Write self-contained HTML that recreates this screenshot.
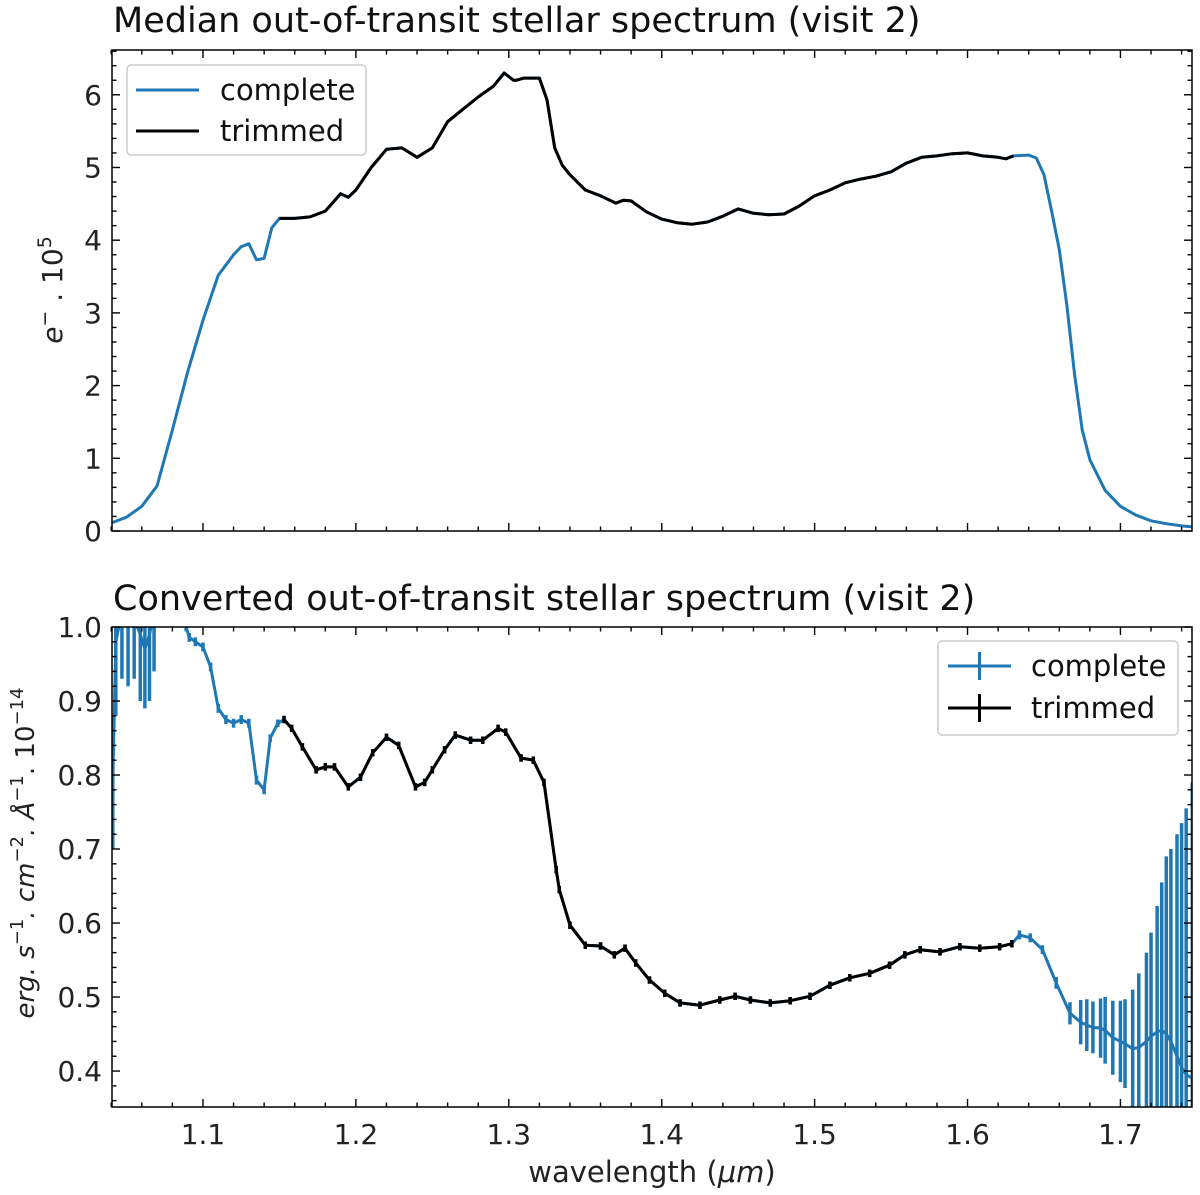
<!DOCTYPE html>
<html><head><meta charset="utf-8">
<style>
html,body{margin:0;padding:0;background:#fff;overflow:hidden;width:1200px;height:1195px;}
svg{display:block;font-family:"DejaVu Sans","Liberation Sans",sans-serif;}
</style></head>
<body>
<svg id="fig" width="1200" height="1195" viewBox="0 0 1200 1195" xmlns="http://www.w3.org/2000/svg"></svg>
<script>
// ---- Data ----
const topWl = [1.04,1.05,1.06,1.07,1.08,1.09,1.10,1.11,1.12,1.125,1.13,1.135,1.14,1.145,1.15,1.16,1.17,1.18,1.19,1.195,1.20,1.21,1.22,1.23,1.24,1.25,1.26,1.27,1.28,1.29,1.297,1.303,1.305,1.31,1.32,1.325,1.33,1.335,1.34,1.35,1.36,1.37,1.375,1.38,1.39,1.40,1.41,1.42,1.43,1.44,1.45,1.46,1.47,1.48,1.49,1.50,1.51,1.52,1.53,1.54,1.55,1.56,1.57,1.58,1.59,1.60,1.61,1.62,1.625,1.63,1.64,1.645,1.65,1.655,1.66,1.665,1.67,1.675,1.68,1.69,1.70,1.71,1.72,1.73,1.74,1.75];
const topFlux = [0.11,0.19,0.34,0.62,1.39,2.19,2.9,3.52,3.8,3.91,3.95,3.73,3.75,4.17,4.3,4.3,4.32,4.4,4.64,4.59,4.69,5.0,5.25,5.27,5.14,5.27,5.63,5.8,5.97,6.12,6.3,6.2,6.2,6.23,6.23,5.93,5.27,5.03,4.9,4.69,4.61,4.51,4.55,4.54,4.39,4.29,4.24,4.22,4.25,4.33,4.43,4.37,4.35,4.36,4.47,4.61,4.69,4.79,4.84,4.88,4.94,5.06,5.14,5.16,5.19,5.2,5.16,5.14,5.12,5.16,5.17,5.13,4.9,4.4,3.87,3.1,2.15,1.39,0.98,0.56,0.34,0.22,0.14,0.1,0.07,0.05];
const botWl = [1.041,1.043,1.047,1.051,1.055,1.059,1.062,1.065,1.068,1.075,1.082,1.089,1.091,1.095,1.100,1.105,1.110,1.115,1.120,1.125,1.130,1.135,1.140,1.144,1.149,1.153,1.158,1.165,1.174,1.180,1.186,1.195,1.203,1.211,1.220,1.228,1.239,1.245,1.250,1.258,1.265,1.275,1.283,1.293,1.298,1.308,1.316,1.323,1.331,1.333,1.340,1.350,1.360,1.369,1.376,1.383,1.392,1.402,1.412,1.425,1.438,1.448,1.458,1.471,1.484,1.497,1.510,1.523,1.536,1.549,1.559,1.569,1.582,1.595,1.608,1.621,1.629,1.634,1.641,1.649,1.658,1.667,1.674,1.678,1.682,1.687,1.690,1.695,1.700,1.703,1.708,1.712,1.717,1.720,1.724,1.727,1.730,1.733,1.737,1.740,1.743,1.747];
const botFlux = [0.79,0.98,1.02,1.0,1.01,0.99,0.97,0.99,1.02,1.05,1.03,1.0,0.986,0.98,0.973,0.946,0.89,0.875,0.87,0.875,0.87,0.793,0.78,0.85,0.87,0.875,0.863,0.838,0.807,0.811,0.811,0.784,0.797,0.83,0.851,0.84,0.784,0.79,0.807,0.834,0.854,0.847,0.847,0.863,0.858,0.823,0.82,0.79,0.672,0.645,0.597,0.57,0.569,0.557,0.566,0.546,0.523,0.505,0.492,0.489,0.496,0.501,0.496,0.492,0.495,0.501,0.516,0.526,0.532,0.543,0.557,0.564,0.561,0.568,0.566,0.568,0.572,0.584,0.58,0.564,0.519,0.478,0.466,0.462,0.459,0.458,0.455,0.445,0.44,0.437,0.43,0.432,0.44,0.447,0.453,0.455,0.45,0.44,0.42,0.405,0.395,0.39];
const botErr = [0.09,0.1,0.09,0.08,0.08,0.09,0.08,0.09,0.08,0.05,0.03,0.006,0.006,0.006,0.006,0.006,0.006,0.006,0.006,0.006,0.006,0.006,0.006,0.005,0.005,0.005,0.005,0.005,0.005,0.005,0.005,0.005,0.005,0.005,0.005,0.005,0.005,0.005,0.005,0.005,0.005,0.005,0.005,0.005,0.005,0.005,0.005,0.005,0.005,0.005,0.005,0.005,0.005,0.005,0.005,0.005,0.005,0.005,0.005,0.005,0.005,0.005,0.005,0.005,0.005,0.005,0.005,0.005,0.005,0.005,0.005,0.005,0.005,0.005,0.005,0.005,0.005,0.006,0.006,0.006,0.008,0.015,0.03,0.035,0.035,0.04,0.045,0.05,0.055,0.06,0.08,0.1,0.12,0.14,0.17,0.2,0.24,0.26,0.3,0.33,0.36,0.4];
const trimRange = [1.15, 1.63];
const xTicks = [1.1,1.2,1.3,1.4,1.5,1.6,1.7];
const topYTicks = [0,1,2,3,4,5,6];
const botYTicks = [0.4,0.5,0.6,0.7,0.8,0.9,1.0];

// ---- Axes ----
const NS='http://www.w3.org/2000/svg';
const svg=document.getElementById('fig');
const L=112,R=1192;
const xmin=1.0405,xmax=1.7468;
const sx=v=>L+(v-xmin)/(xmax-xmin)*(R-L);
const T1=50,B1=531,ymin1=0,ymax1=6.616;
const sy1=v=>B1-(v-ymin1)/(ymax1-ymin1)*(B1-T1);
const T2=627,B2=1107,ymin2=0.3514,ymax2=1.0;
const sy2=v=>B2-(v-ymin2)/(ymax2-ymin2)*(B2-T2);
const BLUE='#1f77b4';
const TICKFS=28;

function mk(tag,attrs,parent){const e=document.createElementNS(NS,tag);for(const k in attrs)e.setAttribute(k,attrs[k]);(parent||svg).appendChild(e);return e;}
function txt(s,attrs,parent){const e=mk('text',attrs,parent);e.textContent=s;return e;}

function clip(id,T,B){const d=mk('clipPath',{id:id});mk('rect',{x:L,y:T,width:R-L,height:B-T},d);}
clip('c1',T1,B1);clip('c2',T2,B2);

function axes(T,B,sy,ymin,ymax,yTicks,yMinorStep,labelX,prefix,fmt){
  const g=mk('g',{});
  
  
  for(let v=1.04;v<=xmax+1e-9;v+=0.02){
    const major=xTicks.some(t=>Math.abs(t-v)<1e-6);const len=major?8:4.5;const x=sx(v);
    mk('line',{x1:x,x2:x,y1:B,y2:B-len,stroke:'#000','stroke-width':1.4},g);
    mk('line',{x1:x,x2:x,y1:T,y2:T+len,stroke:'#000','stroke-width':1.4},g);
  }
  for(let v=Math.ceil(ymin/yMinorStep)*yMinorStep;v<=ymax+1e-9;v+=yMinorStep){
    const major=yTicks.some(t=>Math.abs(t-v)<1e-6);const len=major?8:4.5;const y=sy(v);
    mk('line',{x1:L,x2:L+len,y1:y,y2:y,stroke:'#000','stroke-width':1.4},g);
    mk('line',{x1:R,x2:R-len,y1:y,y2:y,stroke:'#000','stroke-width':1.4},g);
  }
  yTicks.forEach(t=>{const e=txt(fmt(t),{x:L-10,y:sy(t)+10,'text-anchor':'end','font-size':TICKFS,fill:'#222'},g);
    
    });
  if(labelX){xTicks.forEach(t=>{const e=txt(t.toFixed(1),{x:sx(t),y:B+37,'text-anchor':'middle','font-size':TICKFS,fill:'#222'},g);
    
    });}
  return g;
}

function drawLine(wl,fl,sy,color,filt,clipId,name){
  let d='';let started=false;
  wl.forEach((w,i)=>{if(!filt(w)){started=false;return;}d+=(started?'L':'M')+sx(w).toFixed(1)+','+sy(fl[i]).toFixed(1);started=true;});
  const p=mk('path',{d:d,fill:'none',stroke:color,'stroke-width':3,'stroke-linejoin':'round','clip-path':'url(#'+clipId+')'});
  
  
}
function drawErr(wl,fl,er,sy,color,filt,clipId,name){
  const g=mk('g',{'clip-path':'url(#'+clipId+')'});
  
  
  wl.forEach((w,i)=>{if(!filt(w))return;const x=sx(w);
    mk('line',{x1:x,x2:x,y1:sy(fl[i]-er[i]),y2:sy(fl[i]+er[i]),stroke:color,'stroke-width':3.5},g);});
}
const inTrim=w=>w>=trimRange[0]-1e-9&&w<=trimRange[1]+1e-9;
const all=w=>true;

// ---- Top panel ----
const t1=txt('Median out-of-transit stellar spectrum (visit 2)',{x:113,y:32,'font-size':35,fill:'#111'});

drawLine(topWl,topFlux,sy1,BLUE,all,'c1','top-complete-line');
drawLine(topWl,topFlux,sy1,'#000',inTrim,'c1','top-trimmed-line');
axes(T1,B1,sy1,ymin1,ymax1,topYTicks,0.2,false,'top',v=>String(v));
mk('rect',{x:L,y:T1,width:R-L,height:B1-T1,fill:'none',stroke:'#000','stroke-width':1.5});
const yl1=txt('',{transform:'translate(62,290) rotate(-90)','text-anchor':'middle','font-size':28,fill:'#222'});

yl1.innerHTML='<tspan font-style="italic">e</tspan><tspan dy="-11" font-size="19">−</tspan><tspan dy="11"> . 10</tspan><tspan dy="-11" font-size="19">5</tspan>';

// top legend
const lg1=mk('g',{});
mk('rect',{x:127,y:65,width:239,height:90,rx:4,fill:'#fff','fill-opacity':0.85,stroke:'#ccc','stroke-width':1.5},lg1);
mk('line',{x1:136,x2:199,y1:90,y2:90,stroke:BLUE,'stroke-width':3},lg1);
mk('line',{x1:136,x2:199,y1:131,y2:131,stroke:'#000','stroke-width':3},lg1);
let e=txt('complete',{x:220,y:100,'font-size':29,fill:'#111'},lg1);
e=txt('trimmed',{x:220,y:141,'font-size':29,fill:'#111'},lg1);

// ---- Bottom panel ----
const t2=txt('Converted out-of-transit stellar spectrum (visit 2)',{x:113,y:610,'font-size':35,fill:'#111'});

drawErr(botWl,botFlux,botErr,sy2,BLUE,all,'c2','bottom-complete-errorbars');
drawLine(botWl,botFlux,sy2,BLUE,all,'c2','bottom-complete-line');
drawErr(botWl,botFlux,botErr,sy2,'#000',inTrim,'c2','bottom-trimmed-errorbars');
drawLine(botWl,botFlux,sy2,'#000',inTrim,'c2','bottom-trimmed-line');
axes(T2,B2,sy2,ymin2,ymax2,botYTicks,0.02,true,'bottom',v=>v.toFixed(1));
mk('rect',{x:L,y:T2,width:R-L,height:B2-T2,fill:'none',stroke:'#000','stroke-width':1.5});
const yl2=txt('',{transform:'translate(34,853) rotate(-90)','text-anchor':'middle','font-size':26,fill:'#222','font-style':'italic'});

yl2.innerHTML='erg. s<tspan dy="-11" font-size="18" font-style="normal">−1</tspan><tspan dy="11">. cm</tspan><tspan dy="-11" font-size="18" font-style="normal">−2</tspan><tspan dy="11">. Å</tspan><tspan dy="-11" font-size="18" font-style="normal">−1</tspan><tspan dy="11" font-style="normal">. 10</tspan><tspan dy="-11" font-size="18" font-style="normal">−14</tspan>';
const xl=txt('',{x:652,y:1182,'text-anchor':'middle','font-size':29,fill:'#222'});

xl.innerHTML='wavelength (<tspan font-style="italic">μm</tspan>)';

// bottom legend
const lg2=mk('g',{});
mk('rect',{x:938,y:641,width:240,height:94,rx:4,fill:'#fff','fill-opacity':0.85,stroke:'#ccc','stroke-width':1.5},lg2);
mk('line',{x1:948,x2:1011,y1:666,y2:666,stroke:BLUE,'stroke-width':3},lg2);
mk('line',{x1:979.5,x2:979.5,y1:652,y2:680,stroke:BLUE,'stroke-width':3},lg2);
mk('line',{x1:948,x2:1011,y1:708,y2:708,stroke:'#000','stroke-width':3},lg2);
mk('line',{x1:979.5,x2:979.5,y1:694,y2:722,stroke:'#000','stroke-width':3},lg2);
e=txt('complete',{x:1031,y:676,'font-size':29,fill:'#111'},lg2);
e=txt('trimmed',{x:1031,y:718,'font-size':29,fill:'#111'},lg2);
</script>
</body></html>
